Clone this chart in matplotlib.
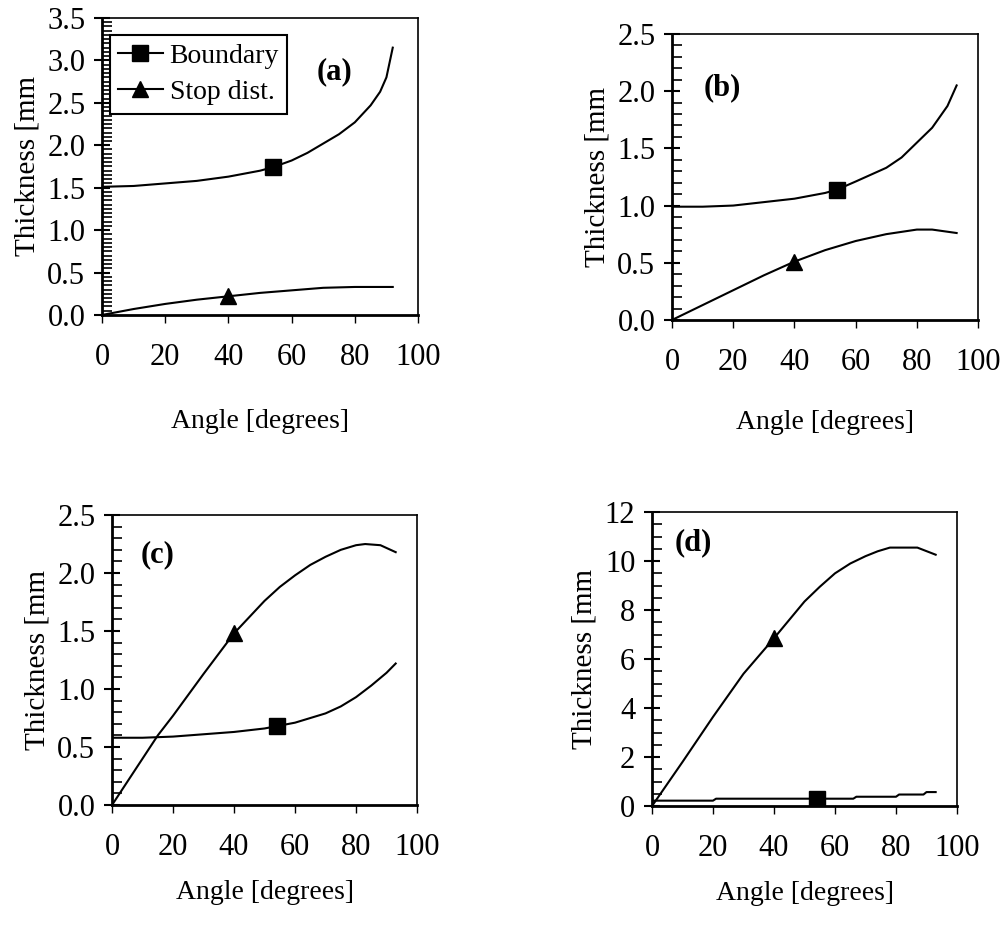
import matplotlib
matplotlib.use("Agg")
import matplotlib.pyplot as plt
from matplotlib.ticker import MultipleLocator
import numpy as np

plt.rcParams['font.family'] = ['Liberation Serif', 'DejaVu Serif']

# ---------------- data ----------------
# Panel (a)
a_bound_x = [0, 10, 20, 30, 40, 50, 54, 60, 65, 70, 75, 80, 85, 88, 90, 92]
a_bound_y = [1.51, 1.52, 1.55, 1.58, 1.63, 1.70, 1.74, 1.82, 1.91, 2.02, 2.13, 2.27, 2.47, 2.63, 2.80, 3.15]
a_stop_x = [0, 10, 20, 30, 40, 50, 60, 70, 80, 92]
a_stop_y = [0.0, 0.07, 0.13, 0.18, 0.22, 0.26, 0.29, 0.32, 0.33, 0.33]

# Panel (b)
b_bound_x = [0, 10, 20, 30, 40, 50, 54, 60, 65, 70, 75, 80, 85, 90, 93]
b_bound_y = [0.99, 0.99, 1.00, 1.03, 1.06, 1.11, 1.14, 1.21, 1.27, 1.33, 1.42, 1.55, 1.68, 1.87, 2.05]
b_stop_x = [0, 10, 20, 30, 40, 50, 60, 70, 80, 85, 93]
b_stop_y = [0.0, 0.13, 0.26, 0.39, 0.51, 0.61, 0.69, 0.75, 0.79, 0.79, 0.76]

# Panel (c)
c_bound_x = [0, 10, 20, 30, 40, 50, 54, 60, 65, 70, 75, 80, 85, 90, 93]
c_bound_y = [0.58, 0.58, 0.59, 0.61, 0.63, 0.66, 0.68, 0.71, 0.75, 0.79, 0.85, 0.93, 1.03, 1.14, 1.22]
c_stop_x = [0, 10, 15, 20, 30, 40, 50, 55, 60, 65, 70, 75, 80, 83, 88, 93]
c_stop_y = [0.0, 0.40, 0.60, 0.77, 1.13, 1.48, 1.76, 1.88, 1.98, 2.07, 2.14, 2.20, 2.24, 2.25, 2.24, 2.18]

# Panel (d)
d_bound_x = [0, 20, 21, 66, 67, 80, 81, 89, 90, 93]
d_bound_y = [0.22, 0.22, 0.30, 0.30, 0.38, 0.38, 0.47, 0.47, 0.57, 0.57]
d_stop_x = [0, 10, 20, 30, 40, 50, 55, 60, 65, 70, 74, 78, 87, 93]
d_stop_y = [0.0, 1.8, 3.64, 5.4, 6.85, 8.35, 8.95, 9.5, 9.9, 10.2, 10.4, 10.55, 10.55, 10.26]

bound_mark_x = 54
stop_mark_x = 40

panels = [
    dict(label='(a)', bx=a_bound_x, by=a_bound_y, sx=a_stop_x, sy=a_stop_y,
         ylim=(0, 3.5), ymaj=0.5, ymin=0.05, fmt='{:.1f}', legend=True, xpad=27,
         rect=[0.1018, 0.6595, 0.3154, 0.3211], lab=(0.737, 0.818)),
    dict(label='(b)', bx=b_bound_x, by=b_bound_y, sx=b_stop_x, sy=b_stop_y,
         ylim=(0, 2.5), ymaj=0.5, ymin=0.1, fmt='{:.1f}', legend=False, xpad=24,
         rect=[0.6707, 0.6541, 0.3054, 0.3092], lab=(0.163, 0.811)),
    dict(label='(c)', bx=c_bound_x, by=c_bound_y, sx=c_stop_x, sy=c_stop_y,
         ylim=(0, 2.5), ymaj=0.5, ymin=0.1, fmt='{:.1f}', legend=False, xpad=13,
         rect=[0.1118, 0.1297, 0.3044, 0.3135], lab=(0.148, 0.862)),
    dict(label='(d)', bx=d_bound_x, by=d_bound_y, sx=d_stop_x, sy=d_stop_y,
         ylim=(0, 12), ymaj=2, ymin=0.5, fmt='{:.0f}', legend=False, xpad=13,
         rect=[0.6507, 0.1286, 0.3044, 0.3178], lab=(0.134, 0.895)),
]

fig = plt.figure(figsize=(10.02, 9.25), dpi=100)

for p in panels:
    ax = fig.add_axes(p['rect'])
    ax.plot(p['bx'], p['by'], color='black', lw=1.5)
    ax.plot(p['sx'], p['sy'], color='black', lw=1.5)
    ax.plot([bound_mark_x], [np.interp(bound_mark_x, p['bx'], p['by'])], 's',
            color='black', ms=11)
    ax.plot([stop_mark_x], [np.interp(stop_mark_x, p['sx'], p['sy'])], '^',
            color='black', ms=11)
    ax.set_xlim(0, 100)
    ax.set_ylim(*p['ylim'])
    ax.xaxis.set_major_locator(MultipleLocator(20))
    ax.yaxis.set_major_locator(MultipleLocator(p['ymaj']))
    ax.yaxis.set_minor_locator(MultipleLocator(p['ymin']))
    ax.yaxis.set_major_formatter(plt.FuncFormatter(lambda v, pos, f=p['fmt']: f.format(v)))
    ax.tick_params(axis='x', which='major', direction='out', length=6, width=1,
                   pad=14, labelsize=22)
    ax.tick_params(axis='y', which='major', direction='inout', length=12, width=1.5,
                   pad=6, labelsize=22)
    ax.tick_params(axis='y', which='minor', direction='in', length=7, width=1.2)
    for s in ['left', 'bottom']:
        ax.spines[s].set_linewidth(2)
    for s in ['top', 'right']:
        ax.spines[s].set_linewidth(1.2)
    ax.set_xlabel('Angle [degrees]', fontsize=20, labelpad=p['xpad'])
    ax.set_ylabel('Thickness [mm', fontsize=21, labelpad=5)
    ax.text(p['lab'][0], p['lab'][1], p['label'], transform=ax.transAxes,
            fontsize=22, fontweight='bold', ha='center', va='center')
    if p['legend']:
        h1, = ax.plot([], [], color='black', lw=1.5, marker='s', ms=11)
        h2, = ax.plot([], [], color='black', lw=1.5, marker='^', ms=11)
        leg = ax.legend([h1, h2], ['Boundary', 'Stop dist.'], loc='upper left',
                        bbox_to_anchor=(0.025, 0.943), borderaxespad=0,
                        fancybox=False, framealpha=1, edgecolor='black',
                        fontsize=20, handlelength=1.6, handletextpad=0.25,
                        labelspacing=0.4, borderpad=0.3)
        leg.get_frame().set_linewidth(1.5)

fig.savefig('out.png', dpi=100)
